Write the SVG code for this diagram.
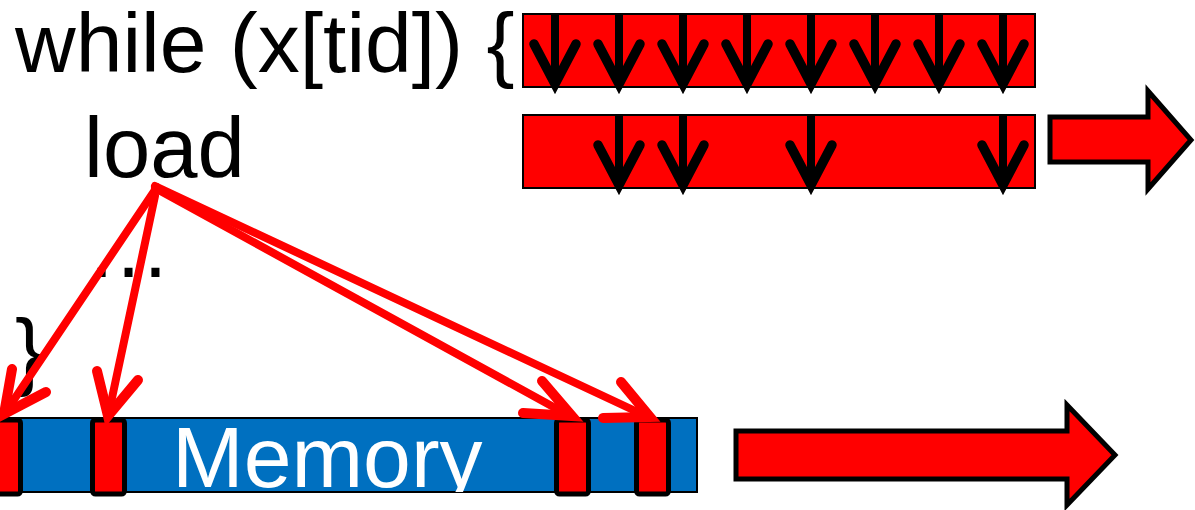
<svg xmlns="http://www.w3.org/2000/svg" width="1195" height="510" viewBox="0 0 1195 510">
  <style>
    .txt { font-family: "Liberation Sans", Arial, sans-serif; font-size: 85px; fill: #000; }
    .bar { fill: #FF0000; stroke: #000; stroke-width: 2; }
    .shaft { stroke: #000; stroke-width: 8; fill: none; }
    .head { stroke: #000; stroke-width: 9.5; fill: none; stroke-linecap: round; stroke-linejoin: miter; stroke-miterlimit: 10; }
    .bigarrow { fill: #FF0000; stroke: #000; stroke-width: 5; stroke-linejoin: miter; stroke-miterlimit: 10; }
    .cell { fill: #FF0000; stroke: #000; stroke-width: 5; }
    .conn { stroke: #FF0000; stroke-width: 8; fill: none; stroke-linecap: round; }
    .chead { stroke: #FF0000; stroke-width: 10; fill: none; stroke-linecap: round; stroke-linejoin: miter; stroke-miterlimit: 10; }
  </style>
  <defs>
    <g id="arrTop">
      <line class="shaft" x1="0" y1="14" x2="0" y2="80"/>
      <path class="head" d="M-21,44 L0,84 L21,44"/>
    </g>
    <g id="arrBot">
      <line class="shaft" x1="0" y1="116" x2="0" y2="182"/>
      <path class="head" d="M-21,145 L0,185 L21,145"/>
    </g>
    <clipPath id="memClip">
      <rect x="0" y="418" width="697" height="74"/>
    </clipPath>
  </defs>
  <rect width="1195" height="510" fill="#fff"/>

  <g id="code-text">
    <text class="txt" x="15" y="72" style="font-size:84px">while (x[tid]) {</text>
    <text class="txt" x="84" y="177">load</text>
    <text class="txt" x="86" y="277">…</text>
    <text class="txt" x="15" y="379">}</text>
  </g>

  <g id="bar-top">
    <rect class="bar" x="523" y="14" width="512" height="73"/>
    <use href="#arrTop" x="555"/>
    <use href="#arrTop" x="619"/>
    <use href="#arrTop" x="683"/>
    <use href="#arrTop" x="747"/>
    <use href="#arrTop" x="811"/>
    <use href="#arrTop" x="875"/>
    <use href="#arrTop" x="939"/>
    <use href="#arrTop" x="1003"/>
  </g>

  <g id="bar-bottom">
    <rect class="bar" x="523" y="115" width="512" height="73"/>
    <use href="#arrBot" x="619"/>
    <use href="#arrBot" x="683"/>
    <use href="#arrBot" x="811"/>
    <use href="#arrBot" x="1003"/>
  </g>

  <g id="arrow-top-right">
    <path class="bigarrow" d="M1050,117 L1148,117 L1148,91 L1191,140 L1148,189 L1148,162 L1050,162 Z"/>
  </g>

  <g id="memory">
    <rect x="-2" y="418" width="699" height="74" fill="#0070C0" stroke="#000" stroke-width="2"/>
    <text x="172" y="487" clip-path="url(#memClip)" style="font-family: 'Liberation Sans', Arial, sans-serif; font-size: 86px; fill: #fff;">Memory</text>
    <rect class="cell" x="-12" y="420" width="32.5" height="74" rx="3"/>
    <rect class="cell" x="92.5" y="420" width="32" height="74" rx="3"/>
    <rect class="cell" x="556.5" y="420" width="32" height="74" rx="3"/>
    <rect class="cell" x="636.5" y="420" width="32" height="74" rx="3"/>
  </g>

  <g id="arrow-bottom-right">
    <path class="bigarrow" d="M736,431 L1067,431 L1067,405 L1115,455 L1067,505 L1067,479 L736,479 Z"/>
  </g>

  <g id="connectors">
    <line class="conn" x1="157" y1="187" x2="7" y2="410"/>
    <path class="chead" d="M12,369 L4,414 L46,392"/>
    <line class="conn" x1="155" y1="196" x2="109" y2="412"/>
    <path class="chead" d="M97,371 L108,416 L138,380"/>
    <line class="conn" x1="155" y1="188" x2="568" y2="415"/>
    <path class="chead" d="M542,381 L572,416 L523,413"/>
    <line class="conn" x1="155" y1="186" x2="646" y2="416"/>
    <path class="chead" d="M621,382 L650,417 L603,418"/>
  </g>
</svg>
